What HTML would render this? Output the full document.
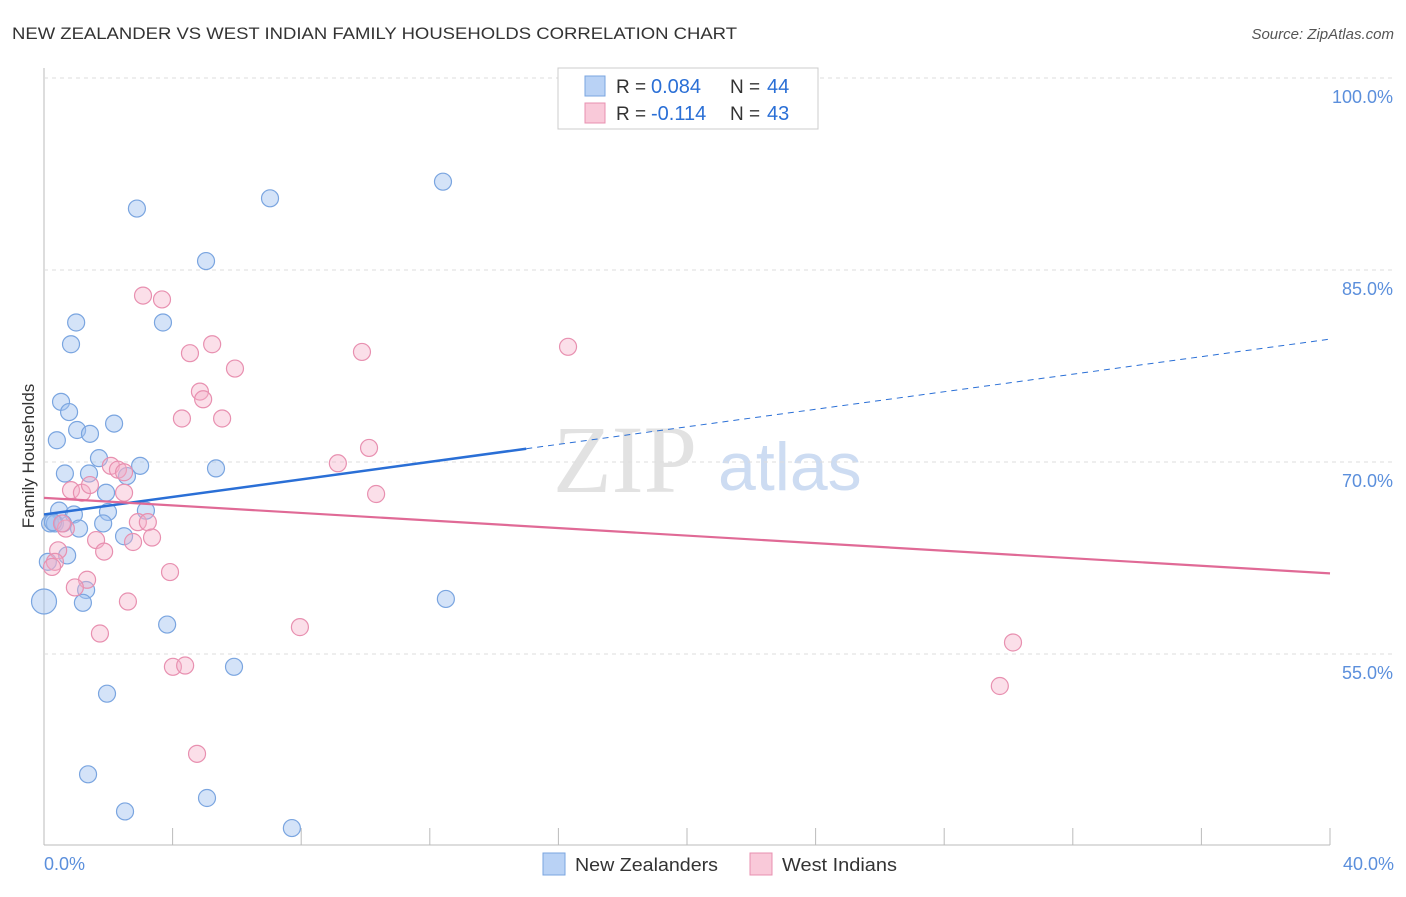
<!DOCTYPE html>
<html><head><meta charset="utf-8"><style>
body{margin:0;background:#fff;font-family:"Liberation Sans",sans-serif;}
svg text{font-family:"Liberation Sans",sans-serif;}
</style></head><body>
<svg id="chart" width="1406" height="892">
<text x="12" y="39" font-size="17" fill="#333" textLength="725" lengthAdjust="spacingAndGlyphs">NEW ZEALANDER VS WEST INDIAN FAMILY HOUSEHOLDS CORRELATION CHART</text>
<text x="1394" y="39" font-size="15" fill="#555" font-style="italic" text-anchor="end">Source: ZipAtlas.com</text>
<text x="34" y="456" font-size="17" fill="#333" transform="rotate(-90 34 456)" text-anchor="middle">Family Households</text>
<text x="553" y="492" font-size="96" fill="#e2e2e2" font-family="Liberation Serif" style="font-family:'Liberation Serif',serif">ZIP</text>
<text x="718" y="490" font-size="68" fill="#cddcf2">atlas</text>
<g id="grid"></g><g id="pts"></g><g id="lines"></g>
<g>
<rect x="558" y="68" width="260" height="61" fill="#fff" stroke="#ccc"/>
<rect x="585" y="76" width="20" height="20" fill="#b9d2f5" stroke="#7aa5e0"/>
<rect x="585" y="103" width="20" height="20" fill="#f9c9d9" stroke="#e890b0"/>
<text x="616" y="93" font-size="19" fill="#333">R =</text>
<text x="651" y="93" font-size="20" fill="#2a6fd6">0.084</text>
<text x="730" y="93" font-size="19" fill="#333">N =</text>
<text x="767" y="93" font-size="20" fill="#2a6fd6">44</text>
<text x="616" y="120" font-size="19" fill="#333">R =</text>
<text x="651" y="120" font-size="20" fill="#2a6fd6">-0.114</text>
<text x="730" y="120" font-size="19" fill="#333">N =</text>
<text x="767" y="120" font-size="20" fill="#2a6fd6">43</text>
</g>
<g>
<rect x="543" y="853" width="22" height="22" fill="#b9d2f5" stroke="#7aa5e0"/>
<text x="575" y="871" font-size="18" fill="#333" textLength="143" lengthAdjust="spacingAndGlyphs">New Zealanders</text>
<rect x="750" y="853" width="22" height="22" fill="#f9c9d9" stroke="#e890b0"/>
<text x="782" y="871" font-size="18" fill="#333" textLength="115" lengthAdjust="spacingAndGlyphs">West Indians</text>
</g>
</svg>
<script>
const blueX=[2.89,7.03,12.41,5.04,1.00,3.70,0.84,0.53,0.78,0.40,1.03,1.43,2.18,1.71,2.99,5.35,0.65,1.40,2.58,1.93,0.47,0.93,1.99,3.17,0.19,0.34,0.59,1.09,1.84,2.49,0.72,0.12,1.31,1.21,0.0,12.50,3.83,5.91,1.96,1.37,5.07,2.52,7.71,0.28];
const blueY=[89.8,90.6,91.9,85.7,80.9,80.9,79.2,74.7,73.9,71.7,72.5,72.2,73.0,70.3,69.7,69.5,69.1,69.1,68.9,67.6,66.2,65.9,66.1,66.2,65.2,65.2,65.2,64.8,65.2,64.2,62.7,62.2,60.0,59.0,59.1,59.3,57.3,54.0,51.9,45.6,43.75,42.7,41.4,65.3];
const pinkX=[3.08,3.67,4.54,5.23,9.89,16.30,5.94,4.85,4.95,4.29,5.54,10.11,9.14,2.08,2.30,2.49,0.84,1.18,1.43,2.49,10.33,2.92,3.23,0.68,0.56,1.62,2.77,3.36,0.44,1.87,0.34,0.25,3.92,1.34,0.96,2.61,1.74,7.96,4.01,4.39,4.76,30.14,29.73];
const pinkY=[83.0,82.7,78.5,79.2,78.6,79.0,77.3,75.5,74.9,73.4,73.4,71.1,69.9,69.7,69.4,69.2,67.8,67.6,68.2,67.6,67.5,65.3,65.3,64.8,65.2,63.9,63.75,64.1,63.1,63.0,62.2,61.8,61.4,60.8,60.2,59.1,56.6,57.1,54.0,54.1,47.2,55.9,52.5];
const yTicks=[100,85,70,55];
const xTickLabels=["0.0%","40.0%"];
const blueTrend=[65.9,79.6];const blueSolidEnd=15;
const pinkTrend=[67.2,61.3];
const NS="http://www.w3.org/2000/svg";
const sx=v=>44+v*1286/40, sy=v=>78+(100-v)*12.8;
function mk(t,a,p){const e=document.createElementNS(NS,t);for(const k in a)e.setAttribute(k,a[k]);document.getElementById(p).appendChild(e);return e;}
const g='grid';
let ax=mk('line',{x1:44,y1:68,x2:44,y2:845,stroke:'#bbb'},g);

let bx=mk('line',{x1:44,y1:845,x2:1330,y2:845,stroke:'#bbb'},g);

for(let i=1;i<=10;i++){const t=mk('line',{x1:sx(i*4),y1:828,x2:sx(i*4),y2:845,stroke:'#bbb'},g);}
yTicks.forEach(v=>{const l=mk('line',{x1:44,y1:sy(v),x2:1394,y2:sy(v),stroke:'#ddd','stroke-dasharray':'4,4'},g);

const t=mk('text',{x:1393,y:sy(v)+25,'font-size':18,fill:'#5b8fdc','text-anchor':'end'},g);t.textContent=v.toFixed(1)+'%';
});
xTickLabels.forEach((s,i)=>{const t=mk('text',{x:i?1394:44,y:870,'font-size':18,fill:'#5b8fdc','text-anchor':i?'end':'start'},g);t.textContent=s;
});
blueX.forEach((x,i)=>{const c=mk('circle',{cx:sx(x),cy:sy(blueY[i]),r:x===0?12.5:8.5,fill:'rgba(160,192,240,0.45)',stroke:'#7aa5e0','stroke-width':1.2},'pts');
});
pinkX.forEach((x,i)=>{const c=mk('circle',{cx:sx(x),cy:sy(pinkY[i]),r:8.5,fill:'rgba(245,175,200,0.4)',stroke:'#e890b0','stroke-width':1.2},'pts');
});
const by=x=>blueTrend[0]+(blueTrend[1]-blueTrend[0])*x/40;
let l1=mk('line',{x1:sx(0),y1:sy(by(0)),x2:sx(blueSolidEnd),y2:sy(by(blueSolidEnd)),stroke:'#2a6fd6','stroke-width':2.5},'lines');

let l2=mk('line',{x1:sx(blueSolidEnd),y1:sy(by(blueSolidEnd)),x2:sx(40),y2:sy(by(40)),stroke:'#2a6fd6','stroke-width':1,'stroke-dasharray':'6,5'},'lines');

let l3=mk('line',{x1:sx(0),y1:sy(pinkTrend[0]),x2:sx(40),y2:sy(pinkTrend[1]),stroke:'#e06a96','stroke-width':2.2},'lines');

</script>
</body></html>
